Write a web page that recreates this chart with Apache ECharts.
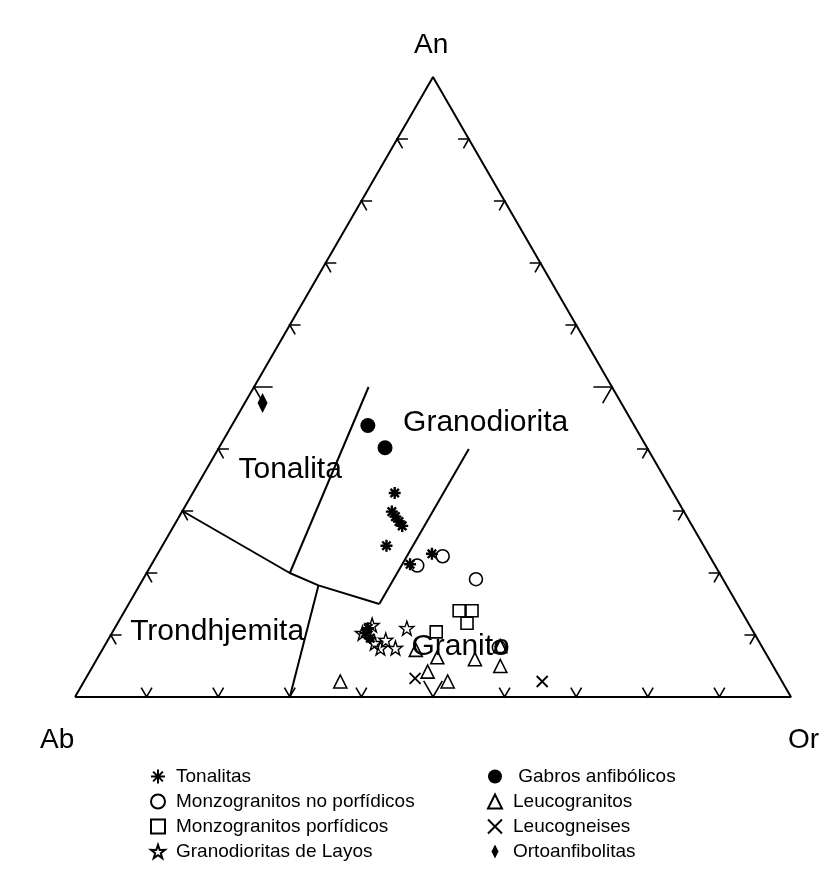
<!DOCTYPE html>
<html>
<head>
<meta charset="utf-8">
<script src="https://cdn.jsdelivr.net/npm/echarts@6/dist/echarts.min.js"></script>
<style>
  html, body { margin: 0; padding: 0; background: #fff; }
  #chart { width: 834px; height: 889px; }
</style>
</head>
<body>
<div id="chart"></div>
<script>
// all points are ternary percentages [An, Or]; Ab = 100 - An - Or
var tonalitas = [[32.9, 28.2], [29.9, 29.3], [29.1, 30.2], [28.3, 31.1], [27.6, 31.9], [24.4, 31.3],
  [23.1, 38.3], [21.4, 36.1], [10.3, 35.4], [9.5, 36.5], [11.1, 35.4]];
var monzoNoPorf = [[22.7, 40.0], [21.2, 37.2], [19.0, 46.5], [8.0, 55.2]];
var monzoPorf = [[13.9, 46.7], [13.9, 48.5], [11.9, 48.8], [10.5, 45.2]];
var granoLayos = [[11.6, 35.7], [11.1, 40.8], [7.9, 38.7], [7.9, 40.8], [9.2, 38.8], [10.3, 35.0], [8.7, 37.5]];
var gabros = [[43.8, 19.0], [40.2, 23.2]];
var leucogranitos = [[7.6, 43.8], [6.4, 47.4], [6.1, 52.8], [8.2, 55.3], [5.0, 56.9], [4.1, 47.2], [2.5, 50.8], [2.5, 35.8]];
var leucogneises = [[3.0, 46.0], [2.5, 64.0]];
var ortoanfibolitas = [[47.4, 2.5]];

// field boundaries
var outline = [[0, 0], [0, 100], [100, 0], [0, 0]];
var tonTrond = [[30, 0], [20, 20], [18, 25], [15, 35]];
var tonGrano = [[20, 20], [50, 16]];
var granoGranito = [[15, 35], [40, 35]];
var trondGranito = [[18, 25], [0, 30]];

var fieldNames = ['Granodiorita', 'Tonalita', 'Trondhjemita', 'Granito'];
var fieldPos = [[44.3, 35.2], [36.7, 11.7], [10.5, 14.6], [8.1, 49.8]];

var tickValues = [10, 20, 30, 40, 50, 60, 70, 80, 90];

var font = '"Liberation Sans", Arial, sans-serif';

function tern(p) {
  return [p[1] + p[0] / 2, p[0] * Math.sqrt(3) / 2];
}

function toXY(list) {
  return list.map(tern);
}

// tick arms run along the two grid directions that go into the triangle
function tickArms(side, k) {
  var d = k === 50 ? 2.6 : 1.5;
  if (side === 0) return [[d, k], [0, k], [d, k - d]];
  if (side === 1) return [[k, d], [k, 0], [k - d, d]];
  return [[k, 100 - k - d], [k, 100 - k], [k - d, 100 - k]];
}

var tickData = [];
[0, 1, 2].forEach(function (s) {
  tickValues.forEach(function (k) { tickData.push([s, k]); });
});

var asterisk = 'path://M5,0L5,10M0,5L10,5M1.5,1.5L8.5,8.5M8.5,1.5L1.5,8.5';
var star = 'path://M50,0L61.8,35.1L97.6,34.5L69.1,56.7L79.4,90.5L50,70L20.6,90.5L30.9,56.7L2.4,34.5L38.2,35.1Z';
var cross = 'path://M0,0L10,10M10,0L0,10';
var tallDiamond = 'path://M5,0L10,10L5,20L0,10Z';

function lineSeries(pts) {
  return {
    type: 'line',
    data: toXY(pts),
    symbol: 'none',
    silent: true,
    lineStyle: { color: '#000', width: 2 },
    z: 1
  };
}

function pointSeries(name, pts, symbol, size, filled, bw) {
  return {
    name: name,
    type: 'scatter',
    data: toXY(pts),
    symbol: symbol,
    symbolSize: size,
    itemStyle: {
      color: filled ? '#000' : 'rgba(255,255,255,0)',
      borderColor: '#000',
      borderWidth: bw,
      opacity: 1
    },
    z: 3
  };
}

function legendBlock(names, left) {
  return {
    data: names,
    orient: 'vertical',
    left: left,
    top: 762,
    itemGap: 6,
    itemWidth: 14,
    itemHeight: 14,
    selectedMode: false,
    formatter: function (n) { return n === 'Gabros anfibólicos' ? ' ' + n : n; },
    textStyle: { fontFamily: font, fontSize: 19, color: '#000', padding: [0, 0, 0, 6] }
  };
}

var myChart = echarts.init(document.getElementById('chart'));

var option = {
  animation: false,
  grid: { left: 75, top: 77, width: 716, height: 620 },
  xAxis: { type: 'value', min: 0, max: 100, show: false },
  yAxis: { type: 'value', min: 0, max: 100 * Math.sqrt(3) / 2, show: false },
  legend: [
    legendBlock(['Tonalitas', 'Monzogranitos no porfídicos', 'Monzogranitos porfídicos', 'Granodioritas de Layos'], 145),
    legendBlock(['Gabros anfibólicos', 'Leucogranitos', 'Leucogneises', 'Ortoanfibolitas'], 482)
  ],
  graphic: [
    { type: 'text', left: 414, top: 31, style: { text: 'An', font: '28px ' + font, fill: '#000' } },
    { type: 'text', left: 40, top: 726, style: { text: 'Ab', font: '28px ' + font, fill: '#000' } },
    { type: 'text', left: 788, top: 726, style: { text: 'Or', font: '28px ' + font, fill: '#000' } }
  ],
  series: [
    lineSeries(outline),
    lineSeries(tonTrond),
    lineSeries(tonGrano),
    lineSeries(granoGranito),
    lineSeries(trondGranito),
    {
      type: 'custom',
      silent: true,
      data: tickData,
      renderItem: function (params, api) {
        var arms = tickArms(api.value(0), api.value(1));
        return {
          type: 'polyline',
          shape: { points: arms.map(function (p) { return api.coord(tern(p)); }) },
          style: { stroke: '#000', lineWidth: 1.6, fill: null }
        };
      },
      z: 2
    },
    {
      type: 'scatter',
      silent: true,
      symbolSize: 1,
      itemStyle: { color: 'rgba(0,0,0,0)', opacity: 1 },
      data: fieldNames.map(function (n, i) { return { name: n, value: tern(fieldPos[i]) }; }),
      label: {
        show: true,
        position: 'inside',
        formatter: '{b}',
        fontFamily: font,
        fontSize: 30,
        color: '#000'
      },
      z: 2
    },
    pointSeries('Tonalitas', tonalitas, asterisk, 12, false, 2.4),
    pointSeries('Monzogranitos no porfídicos', monzoNoPorf, 'circle', 13, false, 1.6),
    pointSeries('Monzogranitos porfídicos', monzoPorf, 'rect', 12, false, 1.6),
    pointSeries('Granodioritas de Layos', granoLayos, star, 14, false, 1.4),
    pointSeries('Gabros anfibólicos', gabros, 'circle', 15, true, 0),
    pointSeries('Leucogranitos', leucogranitos, 'triangle', 13, false, 1.6),
    pointSeries('Leucogneises', leucogneises, cross, 11, false, 1.8),
    pointSeries('Ortoanfibolitas', ortoanfibolitas, tallDiamond, [10, 20], true, 0)
  ]
};

myChart.setOption(option);
</script>
</body>
</html>
